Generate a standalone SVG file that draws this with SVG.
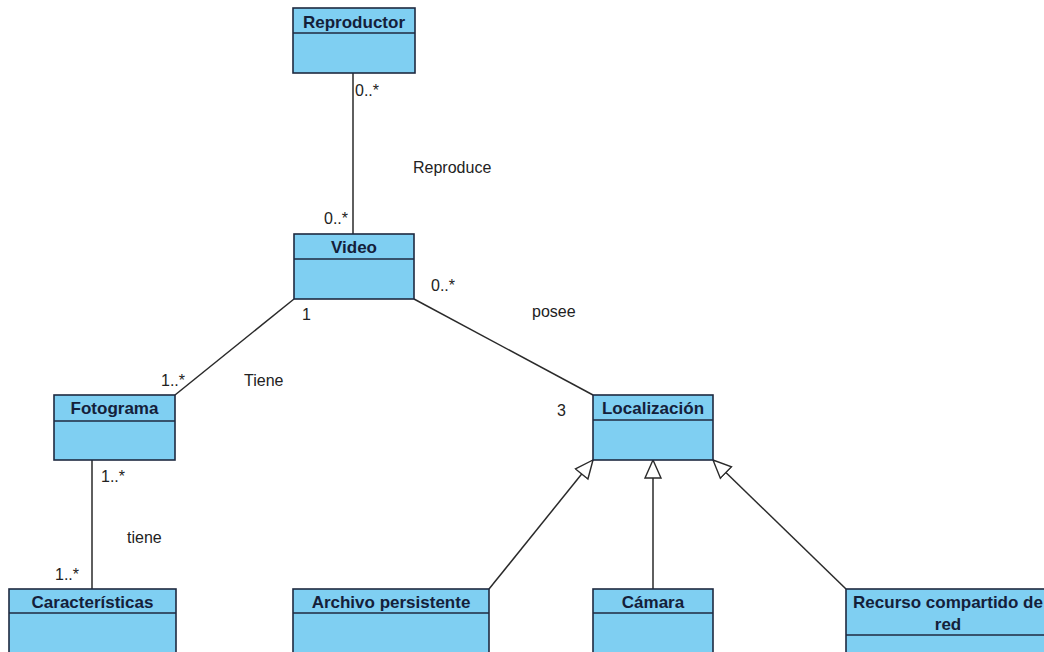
<svg xmlns="http://www.w3.org/2000/svg" width="1044" height="652" viewBox="0 0 1044 652">
  <style>
    .box { fill: #7fcff2; stroke: #1f2a40; stroke-width: 1.6; }
    .div { stroke: #1f2a40; stroke-width: 1.6; }
    .name { font-family: "Liberation Sans", Arial, sans-serif; font-size: 17px; font-weight: bold; fill: #14203a; text-anchor: middle; }
    .lbl { font-family: "Liberation Sans", Arial, sans-serif; font-size: 16px; fill: #222; }
    .conn line { stroke: #2a2a2a; stroke-width: 1.5; fill: none; }
    .gen { marker-end: url(#tri); }
  </style>
  <defs>
    <marker id="tri" viewBox="0 0 20 20" refX="19" refY="10" markerWidth="20" markerHeight="20" markerUnits="userSpaceOnUse" orient="auto">
      <path d="M1,2 L19,10 L1,18 Z" fill="#fff" stroke="#2a2a2a" stroke-width="1.4"/>
    </marker>
  </defs>
  <rect width="1044" height="652" fill="#fff"/>

  <!-- associations and generalizations -->
  <g id="connectors" class="conn">
    <line x1="353" y1="73" x2="353" y2="234"/>
    <line x1="294" y1="299" x2="175" y2="395"/>
    <line x1="414" y1="299" x2="593" y2="395"/>
    <line x1="92" y1="460" x2="92" y2="589"/>
    <line class="gen" x1="489" y1="589" x2="593" y2="460"/>
    <line class="gen" x1="653" y1="589" x2="653" y2="460"/>
    <line class="gen" x1="846" y1="589" x2="713" y2="460"/>
  </g>

  <!-- connector labels -->
  <g id="labels">
    <text class="lbl" x="355" y="96">0..*</text>
    <text class="lbl" x="413" y="173">Reproduce</text>
    <text class="lbl" x="324" y="224">0..*</text>
    <text class="lbl" x="431" y="291">0..*</text>
    <text class="lbl" x="302" y="320">1</text>
    <text class="lbl" x="532" y="317">posee</text>
    <text class="lbl" x="244" y="386">Tiene</text>
    <text class="lbl" x="161" y="386">1..*</text>
    <text class="lbl" x="557" y="416">3</text>
    <text class="lbl" x="101" y="482">1..*</text>
    <text class="lbl" x="127" y="543">tiene</text>
    <text class="lbl" x="55" y="580">1..*</text>
  </g>

  <g id="reproductor">
    <rect class="box" x="293" y="8" width="122" height="65"/>
    <line class="div" x1="293" y1="33" x2="415" y2="33"/>
    <text class="name" x="354" y="28">Reproductor</text>
  </g>

  <g id="video">
    <rect class="box" x="294" y="234" width="120" height="65"/>
    <line class="div" x1="294" y1="259" x2="414" y2="259"/>
    <text class="name" x="354" y="253">Video</text>
  </g>

  <g id="fotograma">
    <rect class="box" x="54" y="395" width="121" height="65"/>
    <line class="div" x1="54" y1="421" x2="175" y2="421"/>
    <text class="name" x="114.5" y="414">Fotograma</text>
  </g>

  <g id="localizacion">
    <rect class="box" x="593" y="395" width="120" height="65"/>
    <line class="div" x1="593" y1="420" x2="713" y2="420"/>
    <text class="name" x="653" y="414">Localización</text>
  </g>

  <g id="caracteristicas">
    <rect class="box" x="9" y="589" width="167" height="70"/>
    <line class="div" x1="9" y1="613" x2="176" y2="613"/>
    <text class="name" x="92.5" y="608">Características</text>
  </g>

  <g id="archivo-persistente">
    <rect class="box" x="293" y="589" width="196" height="70"/>
    <line class="div" x1="293" y1="613" x2="489" y2="613"/>
    <text class="name" x="391" y="608">Archivo persistente</text>
  </g>

  <g id="camara">
    <rect class="box" x="593" y="589" width="120" height="70"/>
    <line class="div" x1="593" y1="613" x2="713" y2="613"/>
    <text class="name" x="653" y="608">Cámara</text>
  </g>

  <g id="recurso-compartido">
    <rect class="box" x="846" y="589" width="204" height="70"/>
    <line class="div" x1="846" y1="635" x2="1050" y2="635"/>
    <text class="name" x="948" y="608">Recurso compartido de</text>
    <text class="name" x="948" y="630">red</text>
  </g>
</svg>
